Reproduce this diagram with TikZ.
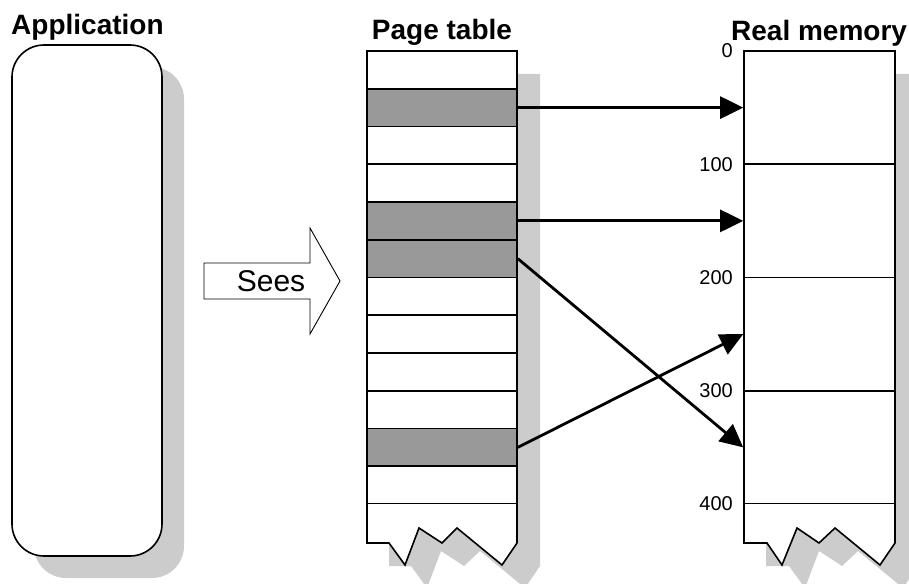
\documentclass[tikz,border=0pt]{standalone}
\usepackage{fontspec}
\setmainfont{Liberation Sans}
\usetikzlibrary{arrows.meta}
\definecolor{shadowgray}{HTML}{CCCCCC}
\definecolor{cellgray}{HTML}{999999}
\tikzset{
  outline/.style={draw=black, line width=1.6pt},
  ptrow/.style={outline, fill=white, minimum width=150pt, minimum height=37.75pt, inner sep=0pt},
  memrow/.style={outline, fill=white, minimum width=151pt, minimum height=113.25pt, inner sep=0pt},
  shade/.style={fill=shadowgray, draw=none},
  maparrow/.style={draw=black, line width=2.8pt, -{Triangle[length=23pt,width=22pt]}},
  title/.style={font=\bfseries\fontsize{28}{31}\selectfont, inner sep=0pt},
  addr/.style={font=\fontsize{20}{23}\selectfont, inner sep=0pt, anchor=east},
}
\begin{document}
\begin{tikzpicture}[x=1pt, y=-1pt]
\useasboundingbox (0,0) rectangle (909,583);

% titles
\node[title, anchor=base west] (tapp) at (11,35) {Application};
\node[title, anchor=base] (tpt) at (442,40) {Page table};
\node[title, anchor=base west] (tmem) at (731,41) {Real memory};

% application box
\fill[shadowgray, rounded corners=32pt] (34,67) rectangle (184,578);
\node[outline, fill=white, rounded corners=32pt, minimum width=150pt, minimum height=511pt, inner sep=0pt] (app) at (87,300.5) {};

% Sees arrow
\draw[line width=0.9pt, fill=white] (204,263) -- (310,263) -- (310,228) -- (340,281) -- (310,334) -- (310,299) -- (204,299) -- cycle;
\node[font=\fontsize{30}{34}\selectfont, inner sep=0pt] (sees) at (271,281) {Sees};

% page table shadow
\path[shade] (389,74) -- (540,74) -- (540,566) -- (525,588) -- (480,551) -- (464,566) -- (441,551) -- (427,588) -- (411,566) -- (389,566) -- cycle;
% page table rows
\foreach \i in {1,...,12} {
  \node[ptrow] (r\i) at (442, {51+(\i-0.5)*37.75}) {};
}
\foreach \i in {2,5,6,11} {
  \node[ptrow, fill=cellgray] at (r\i) {};
}
\draw[outline, fill=white] (367,504) -- (367,543) -- (389,543) -- (405,565) -- (419,528) -- (442,543) -- (457,528) -- (502,565) -- (517,543) -- (517,504);

% real memory shadow
\path[shade] (766,74) -- (918,74) -- (918,566) -- (903,588) -- (858,551) -- (842,566) -- (819,551) -- (805,588) -- (789,566) -- (766,566) -- cycle;
% real memory sections
\foreach \i in {1,...,4} {
  \node[memrow] (m\i) at (819.5, {51+(\i-0.5)*113.25}) {};
}
\draw[outline, fill=white] (744,504) -- (744,543) -- (767,543) -- (782,565) -- (797,528) -- (819,543) -- (835,528) -- (880,565) -- (895,543) -- (895,504);

% addresses
\node[addr] (a0) at (733,51) {0};
\node[addr] (a1) at (733,164.25) {100};
\node[addr] (a2) at (733,277.5) {200};
\node[addr] (a3) at (733,390.75) {300};
\node[addr] (a4) at (733,504) {400};

% mapping arrows
\draw[maparrow] (r2.east) -- (m1.west);
\draw[maparrow] (r5.east) -- (m2.west);
\draw[maparrow] (r6.east) -- (m4.west);
\draw[maparrow] (r11.east) -- (m3.west);
\end{tikzpicture}
\end{document}
